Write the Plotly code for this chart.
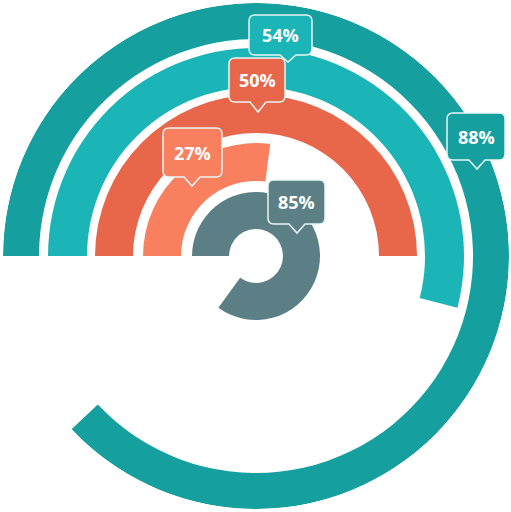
import plotly.graph_objects as go

# Data (outer ring to inner ring)
labels = ["88%", "54%", "50%", "27%", "85%"]
values = [88, 54, 50, 27, 85]
colors = ["#169f9f", "#1bb4b7", "#e8664a", "#f8805f", "#5c7f85"]

# Ring geometry (radial units = pixels)
inner_r = [217, 169, 123, 75, 27]
thickness = [36, 39, 38, 38, 37]

# Callout placement (pixel coords of box and pointer tip)
boxes = [
    (447, 113, 505, 160, 477, 169),
    (249, 15, 312, 55, 288, 62),
    (229, 58, 285, 102, 258, 112),
    (163, 128, 222, 177, 192, 186),
    (268, 180, 325, 224, 297, 233),
]

W, H = 511, 512

fig = go.Figure()
for lab, v, c, b, t in zip(labels, values, colors, inner_r, thickness):
    span = v * 3.6
    fig.add_trace(go.Barpolar(
        r=[t], base=[b], theta=[span / 2], width=[span],
        marker=dict(color=c, line=dict(width=0)),
        hoverinfo="skip", showlegend=False, name=lab,
    ))


def px(x):
    return x / W


def py(y):
    return 1 - y / H


def bubble(x0, y0, x1, y1, tx, ty, rad=6, hw=8):
    pts = []
    pts.append(f"M {px(x0+rad)},{py(y0)}")
    pts.append(f"L {px(x1-rad)},{py(y0)}")
    pts.append(f"Q {px(x1)},{py(y0)} {px(x1)},{py(y0+rad)}")
    pts.append(f"L {px(x1)},{py(y1-rad)}")
    pts.append(f"Q {px(x1)},{py(y1)} {px(x1-rad)},{py(y1)}")
    pts.append(f"L {px(tx+hw)},{py(y1)}")
    pts.append(f"L {px(tx)},{py(ty)}")
    pts.append(f"L {px(tx-hw)},{py(y1)}")
    pts.append(f"L {px(x0+rad)},{py(y1)}")
    pts.append(f"Q {px(x0)},{py(y1)} {px(x0)},{py(y1-rad)}")
    pts.append(f"L {px(x0)},{py(y0+rad)}")
    pts.append(f"Q {px(x0)},{py(y0)} {px(x0+rad)},{py(y0)}")
    pts.append("Z")
    return " ".join(pts)


shapes = []
annotations = []
for lab, c, (x0, y0, x1, y1, tx, ty) in zip(labels, colors, boxes):
    shapes.append(dict(type="path", xref="paper", yref="paper",
                       path=bubble(x0, y0, x1, y1, tx, ty),
                       fillcolor=c, line=dict(color="#e6f7f5", width=1.5)))
    annotations.append(dict(x=px((x0 + x1) / 2), y=py((y0 + y1) / 2),
                            xref="paper", yref="paper", text=f"<b>{lab}</b>",
                            xanchor="center", yanchor="middle",
                            showarrow=False,
                            font=dict(family="Open Sans", size=18, color="white")))

fig.update_layout(
    width=W, height=H,
    margin=dict(l=0, r=0, t=0, b=0),
    paper_bgcolor="white",
    polar=dict(
        domain=dict(x=[3 / W, 509 / W], y=[3 / H, 509 / H]),
        bgcolor="white",
        barmode="overlay",
        angularaxis=dict(direction="clockwise", rotation=180, visible=False),
        radialaxis=dict(range=[0, 253], visible=False),
    ),
    shapes=shapes,
    annotations=annotations,
)

fig.write_html("out.html", config={"displayModeBar": False},
               post_script="document.body.style.margin='0px';")
